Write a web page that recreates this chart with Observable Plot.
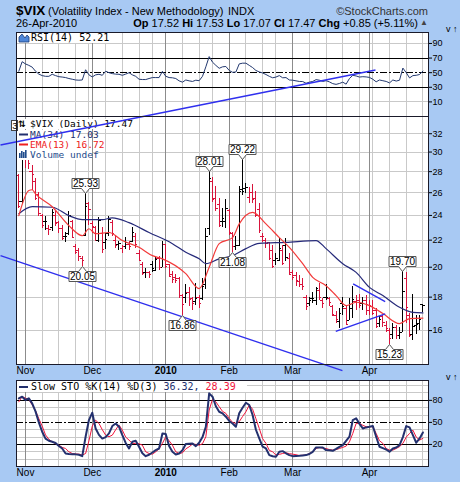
<!DOCTYPE html>
<html><head><meta charset="utf-8">
<script src="https://cdn.jsdelivr.net/npm/d3@7"></script>
<script src="https://cdn.jsdelivr.net/npm/@observablehq/plot@0.6"></script>
<style>
html,body{margin:0;padding:0;background:#fff}
#chart{position:relative;width:460px;height:482px;background:#A8C9F3;overflow:hidden;font-family:"Liberation Sans",Arial,sans-serif;color:#000}
#chart svg{position:absolute;left:0}
.t{position:absolute;white-space:pre;line-height:1}
</style></head>
<body><div id="chart">
<div class="t" style="left:16px;top:4px;font-size:13.5px;font-weight:bold">$VIX</div>
<div class="t" style="left:48px;top:6px;font-size:11px">(Volatility Index - New Methodology)</div>
<div class="t" style="left:228px;top:6px;font-size:11px">INDX</div>
<div class="t" style="right:32px;top:6px;font-size:11px;color:#333">©StockCharts.com</div>
<div class="t" style="left:16px;top:18px;font-size:11px">26-Apr-2010</div>
<div class="t" id="quote" style="right:42px;top:18px;font-size:11px"></div>
<div class="t" style="left:420px;top:19px;font-size:8px;color:#444">▲</div>
</div>
<script>
// ---------- data ----------
const holidays = ["2009-11-26","2009-12-25","2010-01-01","2010-01-18","2010-02-15","2010-04-02"];
const monthLabels = ["Nov","Dec","2010","Feb","Mar","Apr"];
const priceTicks = [16,18,20,22,24,26,28,30,32];
const rsiTicks = [10,30,50,70,90];
const stoTicks = [20,50,80];

const open  = [27.6,25.2,30.6,30.3,28.0,27.0,25.8,24.0,23.5,22.9, 23.0,24.0,23.4,22.9,22.3,22.5,23.5,21.5,21.2,20.6,
               22.4,25.0,23.3,23.0,22.0,22.5,21.8,22.5,23.4,22.0, 21.7,21.4,21.5,21.7,21.9,22.3,21.0,20.2,19.6,19.6,
               20.2,19.8,20.6,20.0,21.7,20.2,19.5,19.3,19.2,18.1, 18.0,18.3,17.9,17.7,18.0,17.9,18.8,22.9,27.0,25.5,
               24.9,23.5,23.5,24.4,22.5,21.5,21.6,26.3,26.4,25.6, 26.0,25.5,24.5,22.3,22.0,21.8,21.2,20.5,20.5,21.2,
               21.6,20.6,19.6,19.4,19.0,18.8,18.0,17.6,17.9,17.8, 18.4,17.8,18.0,17.9,17.4,16.9,16.5,17.6,17.3,16.6,
               17.3,17.7,17.8,17.6,17.8,17.2,17.4,17.2,16.4,16.8, 16.3,16.0,15.8,16.2,15.7,15.9,19.2,16.9,15.8,16.3,
               16.4,17.52];
const high  = [27.7,30.99,31.3,30.6,28.6,27.3,26.0,24.1,23.9,23.2, 24.5,24.3,23.5,23.2,22.6,24.3,23.6,21.7,21.4,20.8,
               25.93,25.1,23.5,23.1,23.8,23.0,22.5,23.9,23.6,22.3, 21.9,21.6,22.2,21.9,23.0,22.5,21.2,20.3,19.9,19.7,
               20.4,20.7,20.8,21.9,21.7,20.2,19.7,19.5,19.3,18.2, 18.8,18.6,18.0,18.9,18.1,19.2,22.9,28.01,27.4,26.6,
               25.5,24.6,25.4,24.5,22.6,22.3,26.6,29.22,26.9,26.5, 26.8,26.1,25.0,22.5,22.1,21.8,21.6,21.0,22.1,21.6,
               22.1,21.0,19.8,19.6,19.4,19.2,18.1,18.0,18.3,18.6, 18.9,17.9,18.8,18.0,17.5,17.1,17.3,18.0,17.4,17.9,
               18.7,18.1,18.2,18.0,18.1,17.8,17.8,17.3,16.8,16.9, 16.5,16.1,16.4,16.3,16.2,19.70,19.6,17.0,18.2,16.9,
               16.9,17.53];
const low   = [24.6,24.9,28.3,28.2,26.2,25.3,23.9,22.9,22.8,22.4, 22.7,23.1,22.5,22.0,21.8,22.4,22.1,20.9,20.4,20.05,
               22.3,23.2,22.5,21.9,21.8,21.0,21.3,22.3,22.3,21.4, 21.2,21.0,21.3,21.2,21.8,21.4,20.4,19.4,19.2,19.2,
               19.6,19.7,19.8,20.0,19.9,19.3,18.9,18.9,17.9,16.86, 17.6,17.4,17.2,17.5,17.3,17.8,18.5,22.4,25.1,24.3,
               23.0,23.0,22.9,22.4,21.08,21.2,21.5,25.7,25.9,25.0, 25.0,23.8,22.5,21.8,21.4,20.5,19.9,20.1,20.4,20.1,
               20.4,19.4,19.1,18.7,18.6,18.4,17.2,17.4,17.6,17.5, 17.8,17.3,17.8,17.4,16.8,16.4,16.1,16.9,16.3,16.6,
               16.7,17.2,17.3,17.2,16.9,16.9,16.9,16.1,16.2,16.2, 15.9,15.23,15.5,15.5,15.5,15.9,16.4,15.6,15.45,15.8,
               16.0,17.07];
const close = [24.76,30.69,29.78,28.81,27.72,25.43,24.19,23.15,23.46,22.84, 24.24,23.36,22.89,22.14,22.25,23.99,22.19,21.10,20.79,20.50,
               24.74,24.51,23.07,22.52,23.57,21.25,22.05,23.69,22.51,21.59, 21.72,21.49,21.84,21.50,22.64,21.68,20.49,19.54,19.60,19.47,
               19.93,20.54,20.01,21.68,20.04,19.35,19.16,19.06,18.13,17.55, 18.25,17.85,17.63,17.91,17.58,18.68,22.27,27.31,25.41,24.55,
               23.14,23.73,24.62,22.59,21.48,21.60,26.08,26.11,26.51,26.00, 25.40,23.96,22.73,22.28,21.72,20.63,20.02,20.64,21.37,20.27,
               20.67,19.50,19.26,19.06,18.83,18.72,17.42,17.79,17.92,18.57, 17.95,17.58,18.00,17.69,16.91,16.62,16.97,17.39,16.35,17.55,
               17.88,17.77,17.46,17.59,17.53,17.47,17.02,16.23,16.62,16.46, 16.14,15.58,16.20,15.73,15.89,18.36,17.34,15.73,16.26,16.32,
               16.62,17.47];

const maDay = [0,4,10,15,19,25,28,33,39,46,50,54,56,60,64,68,72,80,89,92,97,101,105,109,114,118,121];
const maVal = [24.15,24.75,24.7,23.98,23.65,23.65,23.8,23.4,22.6,21.73,21.08,20.6,20.25,20.6,20.83,21.35,21.75,21.83,21.97,21.35,20.25,19.64,18.63,18.1,17.37,17.06,17.03];
const emaDay = [0,3,4,5,10,15,19,21,23,27,31,36,40,43,50,54,57,60,64,66,70,74,78,81,85,88,92,95,98,101,105,109,114,117,121];
const emaVal = [23.98,26.2,26.27,25.9,24.75,23.15,22.35,22.9,22.5,22.6,21.97,21.45,20.83,20.6,19.55,18.55,20.0,21.73,22.2,23.3,24.26,23.3,22.2,21.45,20.25,19.3,18.74,18.1,17.47,17.68,17.47,16.99,16.4,16.69,16.72];

const rsiVal = [52,65,62,60,57.6,52,48,46,45,45, 47.8,46,44.5,44,43.3,42,41,40,39.7,40,
                54,47,44.2,47,47.8,46.4,52,50,48.7,48, 47.8,46.4,48,50,47,45,41,40.6,40.6,42,
                43.3,43.3,43.3,51.8,45.1,43.3,43,42,38.8,37, 40,38.8,38,39.7,39,45,58,72,64.4,60,
                56,58,58.5,53,50.5,50.9,62,63,63,60, 57,53,51,49.6,47.5,45,43,44,46,43,
                43.3,40,39.7,38.8,38,37.9,35.5,37,38,40.5, 39.7,38,39,37.4,35,34,35.2,37,34.3,42,
                46.4,45.5,44,44.5,44.2,43.5,41,37.5,40,39, 38,36,40,38.5,39.7,56.3,50,42.8,46,46.4,
                47.5,52.21];
const stoK = [82.7,85,80.5,82.7,75.9,65,50,37.3,28,25, 23.6,22,18,14.5,7.7,7,6.8,6.5,6,4.1,
              30.5,53.2,63.2,41.8,33,28,30,35,45,48.6, 44.1,32.7,22,14.5,23.6,25,16.8,8,4.1,6,
              9,12.3,14.5,35,34.1,18,10,6.4,7.7,12, 20.5,21,21.4,17.7,22.3,30,44.1,89.5,85,72,
              64.5,62.3,57.7,52,48.6,44.1,62.3,70,76.8,73.6, 60,40,28.2,17,14.5,5.5,4,3.2,10,10.9,
              8,5.5,4.1,4.3,4.5,5,5.5,7,10,15.9, 15.9,15.9,12.3,12,11.4,14,16.8,19.1,25,30.5,
              53.2,55.5,48,41.8,43.2,44,45,30.5,16.8,15, 13.2,10,14.5,15.9,19.1,30,45,43.2,32.7,22.3,
              28.2,36.32];
const stoD = [78,85,83,81,74,66,55,45,33,27, 23.6,21,19,16,14.5,10,7.7,7,6.8,5.5,
              7.7,25,45,53,48.6,40,32.7,30.5,32.7,40, 46.4,39.5,30,25.9,21.4,21.4,21,19,10,7.7,
              6.8,10,14,21.4,30.5,25,19,10,7.7,8.6, 14,16.8,20.5,20,19,21,30.5,66.8,81.4,78,
              71.4,65,62.3,55.5,50,48.6,51,58,64.5,73.6, 68,55,41.8,28,21.4,12,10,5.5,6.5,7.7,
              8.6,7.5,6.8,6,5,5.3,5.5,7.7,10,14.5, 15.9,15,14.5,13,12.3,13,14.5,16,17.7,23.6,
              35,48.6,48.6,46,44.1,44.1,44.1,35,25,21.4, 14.5,12.3,12.3,14.5,17,21.4,30,35,39.5,30,
              25.9,28.39];

const calloutDay  = [20,19,57,67,64,49,115,111];
const calloutVal  = [25.93,20.05,28.01,29.22,21.08,16.86,19.70,15.23];
const calloutSide = ["above","below","above","above","below","below","above","below"];

// trend lines drawn on the chart (day index, price)
const trendX1 = [-5.48,-5.48,100.1,94.9];
const trendY1 = [30.75,20.83,18.86,15.96];
const trendX2 = [106.8,96.9,109.7,109.7];
const trendY2 = [40.04,13.9,17.72,16.97];

// ---------- derived ----------
const dates = d3.utcDays(new Date("2009-10-29"), new Date("2010-04-27"))
  .filter(d => d.getUTCDay() % 6 !== 0 && !holidays.includes(d.toISOString().slice(0,10)));
const weekIdx = [], monthIdx = [];
dates.forEach((d, i) => {
  if (i === 0) return;
  if (d.getUTCDay() < dates[i-1].getUTCDay()) weekIdx.push(i);
  if (d.getUTCMonth() !== dates[i-1].getUTCMonth()) monthIdx.push(i);
});
const bars = close.map((c, i) => ({i, o: open[i], h: high[i], l: low[i], c, up: i === 0 ? c >= open[i] : c >= close[i-1]}));
const maPts = maDay.map((d, k) => ({i: d, v: maVal[k]}));
const emaPts = emaDay.map((d, k) => ({i: d, v: emaVal[k]}));
const rsiPts = rsiVal.map((v, i) => ({i, v}));
const kPts = stoK.map((v, i) => ({i, v}));
const dPts = stoD.map((v, i) => ({i, v}));
const trends = trendX1.map((x, k) => ({x1: x, y1: trendY1[k], x2: trendX2[k], y2: trendY2[k]}));
const last = a => a[a.length - 1];

// ---------- style ----------
const RED = "#D8143C", NAVY = "#23306E", EMA_C = "#F23A3A", BLUE = "#2F2FEE";
const GRID = "#C9C9C9", MONTH = "#8C8C8C", BORDER = "#1A1A2A";
const AX_FONT = "Liberation Sans, Arial, sans-serif";
const LEG_FONT = "DejaVu Sans Mono, monospace";
const xDomain = [-0.69, 122.67];
const baseStyle = {background: "transparent", overflow: "visible", fontFamily: AX_FONT, fontSize: "9px", color: "#000"};
const RSI_TOP = 22, STO_TOP = 370;

const q = document.getElementById("quote");
q.innerHTML = `<b>Op</b> ${open.at(-1).toFixed(2)} <b>Hi</b> ${high.at(-1).toFixed(2)} <b>Lo</b> ${low.at(-1).toFixed(2)} <b>Cl</b> ${close.at(-1).toFixed(2)} <b>Chg</b> +${(close.at(-1)-close.at(-2)).toFixed(2)} (+${((close.at(-1)/close.at(-2)-1)*100).toFixed(2)}%)`;

function gridMarks(hLines) {
  return [
    Plot.frame({fill: "white", stroke: null}),
    Plot.ruleY(hLines, {stroke: GRID, shapeRendering: "crispEdges"}),
    Plot.ruleX(weekIdx, {stroke: GRID, shapeRendering: "crispEdges"}),
    Plot.ruleX(monthIdx, {stroke: MONTH, shapeRendering: "crispEdges"})
  ];
}

// ---------- RSI panel ----------
function rsiLegend() {
  const g = d3.create("svg:g").attr("text-anchor", "start").attr("transform", `translate(0,${-RSI_TOP})`);
  g.append("rect").attr("x", 17).attr("y", 33).attr("width", 96).attr("height", 10).attr("fill", "white");
  g.append("path").attr("d", "M19,42L19,37L22,34L25,38L27,35L29,37L29,42Z").attr("fill", "#4E86D8").attr("stroke", "#1D3E7A").attr("stroke-width", 0.8);
  g.append("text").attr("x", 31).attr("y", 41).attr("font-family", LEG_FONT).attr("font-size", 10).attr("fill", "#000")
    .text(`RSI(14) ${last(rsiVal).toFixed(2)}`);
  return g.node();
}
const rsiPlot = Plot.plot({
  width: 460, height: 104, marginLeft: 16, marginRight: 32, marginTop: 10, marginBottom: 10,
  x: {domain: xDomain, axis: null},
  y: {domain: [-10, 105], axis: null},
  style: baseStyle,
  marks: [
    ...gridMarks([10, 90]),
    Plot.ruleY([30, 70], {stroke: "#000", shapeRendering: "crispEdges"}),
    Plot.ruleY([50], {stroke: "#000", strokeDasharray: "7,2,2,2", shapeRendering: "crispEdges"}),
    Plot.line(rsiPts, {x: "i", y: "v", stroke: "#22386F", strokeWidth: 1}),
    rsiLegend,
    Plot.frame({stroke: BORDER}),
    Plot.axisY(rsiTicks, {anchor: "right", tickSize: 3, tickPadding: 1, tickFormat: d => d})
  ]
});
rsiPlot.style.top = RSI_TOP + "px";

// ---------- STO panel ----------
function stoLegend() {
  const g = d3.create("svg:g").attr("text-anchor", "start").attr("font-family", LEG_FONT).attr("font-size", 10)
    .attr("transform", `translate(0,${-STO_TOP})`);
  g.append("rect").attr("x", 17).attr("y", 381).attr("width", 230).attr("height", 11).attr("fill", "white");
  g.append("line").attr("x1", 19).attr("x2", 28).attr("y1", 387).attr("y2", 387).attr("stroke", NAVY).attr("stroke-width", 2);
  const cw = 6.02;
  const p1 = "Slow STO %K(14) %D(3) ", p2 = last(stoK).toFixed(2) + ",", p3 = " " + last(stoD).toFixed(2);
  g.append("text").attr("x", 31).attr("y", 390).attr("fill", "#000").text(p1);
  g.append("text").attr("x", 31 + cw * p1.length).attr("y", 390).attr("fill", NAVY).text(p2);
  g.append("text").attr("x", 31 + cw * (p1.length + p2.length)).attr("y", 390).attr("fill", "#F0143C").text(p3);
  return g.node();
}
const stoPlot = Plot.plot({
  width: 460, height: 112, marginLeft: 16, marginRight: 32, marginTop: 10, marginBottom: 16,
  x: {domain: xDomain, axis: null},
  y: {domain: [-10, 107], axis: null},
  style: baseStyle,
  marks: [
    ...gridMarks([0, 10, 30, 40, 60, 70, 90, 100]),
    Plot.ruleY([20, 80], {stroke: "#000", shapeRendering: "crispEdges"}),
    Plot.ruleY([50], {stroke: "#000", strokeDasharray: "7,2,2,2", shapeRendering: "crispEdges"}),
    Plot.line(dPts, {x: "i", y: "v", stroke: "#F0143C", strokeWidth: 1}),
    Plot.line(kPts, {x: "i", y: "v", stroke: NAVY, strokeWidth: 2}),
    stoLegend,
    Plot.frame({stroke: BORDER}),
    Plot.axisY(stoTicks, {anchor: "right", tickSize: 3, tickPadding: 1, tickFormat: d => d}),
    Plot.text(monthIdx.filter((d, k) => monthLabels[k] !== "2010"), {x: d => d, frameAnchor: "bottom", dy: 9, text: d => monthLabels[monthIdx.indexOf(d)], fontSize: 10}),
    Plot.text(monthIdx.filter((d, k) => monthLabels[k] === "2010"), {x: d => d, frameAnchor: "bottom", dy: 9, text: () => "2010", fontWeight: "bold", fontSize: 10})
  ]
});
stoPlot.style.top = STO_TOP + "px";

// ---------- main price panel ----------
function mainLegend() {
  const g = d3.create("svg:g").attr("font-family", LEG_FONT).attr("font-size", 9.5).attr("text-anchor", "start");
  const rows = [
    {y: 119, w: 118, text: `$VIX (Daily) ${last(close).toFixed(2)}`, color: "#000"},
    {y: 130, w: 62, text: `MA(34) ${last(maVal).toFixed(2)}`, color: NAVY},
    {y: 140, w: 68, text: `EMA(13) ${last(emaVal).toFixed(2)}`, color: "#EE2020"},
    {y: 150, w: 75, text: "Volume undef", color: "#1F4C8C"}
  ];
  rows.forEach(r => {
    g.append("rect").attr("x", 17).attr("y", r.y).attr("width", r.w).attr("height", 10).attr("fill", "white");
  });
  rows.forEach(r => {
    g.append("text").attr("x", 30).attr("y", r.y + 8).attr("fill", r.color).text(r.text);
  });
  g.append("text").attr("x", 18).attr("y", 127).attr("font-family", "DejaVu Sans").attr("font-size", 9).attr("font-weight", "bold").attr("fill", "#000").text("⇅");
  g.append("line").attr("x1", 19).attr("x2", 28).attr("y1", 134.5).attr("y2", 134.5).attr("stroke", NAVY).attr("stroke-width", 2);
  g.append("line").attr("x1", 19).attr("x2", 28).attr("y1", 144.5).attr("y2", 144.5).attr("stroke", "#EE2020").attr("stroke-width", 2);
  [[19,153],[21,151],[23,152],[25,150]].forEach(([x, y]) =>
    g.append("rect").attr("x", x).attr("y", y).attr("width", 1.6).attr("height", 158 - y).attr("fill", "#1F4C8C"));
  // clipped label at left edge
  g.append("rect").attr("x", 11.5).attr("y", 120.5).attr("width", 6).attr("height", 10).attr("fill", "white").attr("stroke", "#444");
  g.append("text").attr("x", 12.3).attr("y", 129).attr("font-family", AX_FONT).attr("font-size", 9.5).attr("fill", "#000").text("3");
  return g.node();
}
function calloutMark(index, {x, y}) {
  const g = d3.create("svg:g").attr("font-family", AX_FONT).attr("font-size", 10);
  calloutDay.forEach((d, k) => {
    const px = Math.round(x(d)) + 0.5, py = Math.round(y(calloutVal[k])) + 0.5;
    const w = 27, h = 10, p = 5, a = 4;
    const x0 = px - w / 2, x1 = px + w / 2;
    let path, ty;
    if (calloutSide[k] === "above") {
      const yb = py - p, yt = yb - h;
      path = `M${x0},${yt}H${x1}V${yb}H${px + a}L${px},${py}L${px - a},${yb}H${x0}Z`;
      ty = yt + h / 2;
    } else {
      const yt = py + p, yb = yt + h;
      path = `M${x0},${yt}H${px - a}L${px},${py}L${px + a},${yt}H${x1}V${yb}H${x0}Z`;
      ty = yt + h / 2;
    }
    g.append("path").attr("d", path).attr("fill", "white").attr("stroke", "#555");
    g.append("text").attr("x", px).attr("y", ty).attr("dy", "0.36em").attr("text-anchor", "middle").attr("fill", "#000").text(calloutVal[k].toFixed(2));
  });
  return g.node();
}
const mainPlot = Plot.plot({
  width: 460, height: 482, marginLeft: 16, marginRight: 32, marginTop: 116, marginBottom: 118,
  x: {domain: xDomain, axis: null},
  y: {type: "log", domain: [14.2, 34], axis: null},
  style: baseStyle,
  marks: [
    ...gridMarks(priceTicks),
    Plot.ruleX(bars, {filter: d => d.up, x: "i", y1: "l", y2: "h", stroke: "#000", shapeRendering: "crispEdges"}),
    Plot.ruleY(bars, {filter: d => d.up, y: "o", x1: d => d.i - 0.65, x2: "i", stroke: "#000", shapeRendering: "crispEdges"}),
    Plot.ruleY(bars, {filter: d => d.up, y: "c", x1: "i", x2: d => d.i + 0.65, stroke: "#000", shapeRendering: "crispEdges"}),
    Plot.ruleX(bars, {filter: d => !d.up, x: "i", y1: "l", y2: "h", stroke: RED, shapeRendering: "crispEdges"}),
    Plot.ruleY(bars, {filter: d => !d.up, y: "o", x1: d => d.i - 0.65, x2: "i", stroke: RED, shapeRendering: "crispEdges"}),
    Plot.ruleY(bars, {filter: d => !d.up, y: "c", x1: "i", x2: d => d.i + 0.65, stroke: RED, shapeRendering: "crispEdges"}),
    Plot.line(maPts, {x: "i", y: "v", stroke: "#262A7A", strokeWidth: 1.2, curve: "monotone-x"}),
    Plot.line(emaPts, {x: "i", y: "v", stroke: EMA_C, strokeWidth: 1.2, curve: "monotone-x"}),
    mainLegend,
    Plot.link(trends, {x1: "x1", y1: "y1", x2: "x2", y2: "y2", stroke: BLUE, strokeWidth: 1.4}),
    calloutMark,
    Plot.frame({stroke: BORDER}),
    Plot.axisY(priceTicks, {anchor: "right", tickSize: 3, tickPadding: 1, tickFormat: d => d}),
    Plot.text(monthIdx.filter((d, k) => monthLabels[k] !== "2010"), {x: d => d, frameAnchor: "bottom", dy: 9, text: d => monthLabels[monthIdx.indexOf(d)], fontSize: 10}),
    Plot.text(monthIdx.filter((d, k) => monthLabels[k] === "2010"), {x: d => d, frameAnchor: "bottom", dy: 9, text: () => "2010", fontWeight: "bold", fontSize: 10})
  ]
});
mainPlot.style.top = "0px";

const chart = document.getElementById("chart");
chart.appendChild(rsiPlot);
chart.appendChild(stoPlot);
chart.appendChild(mainPlot);
</script>
</body></html>
